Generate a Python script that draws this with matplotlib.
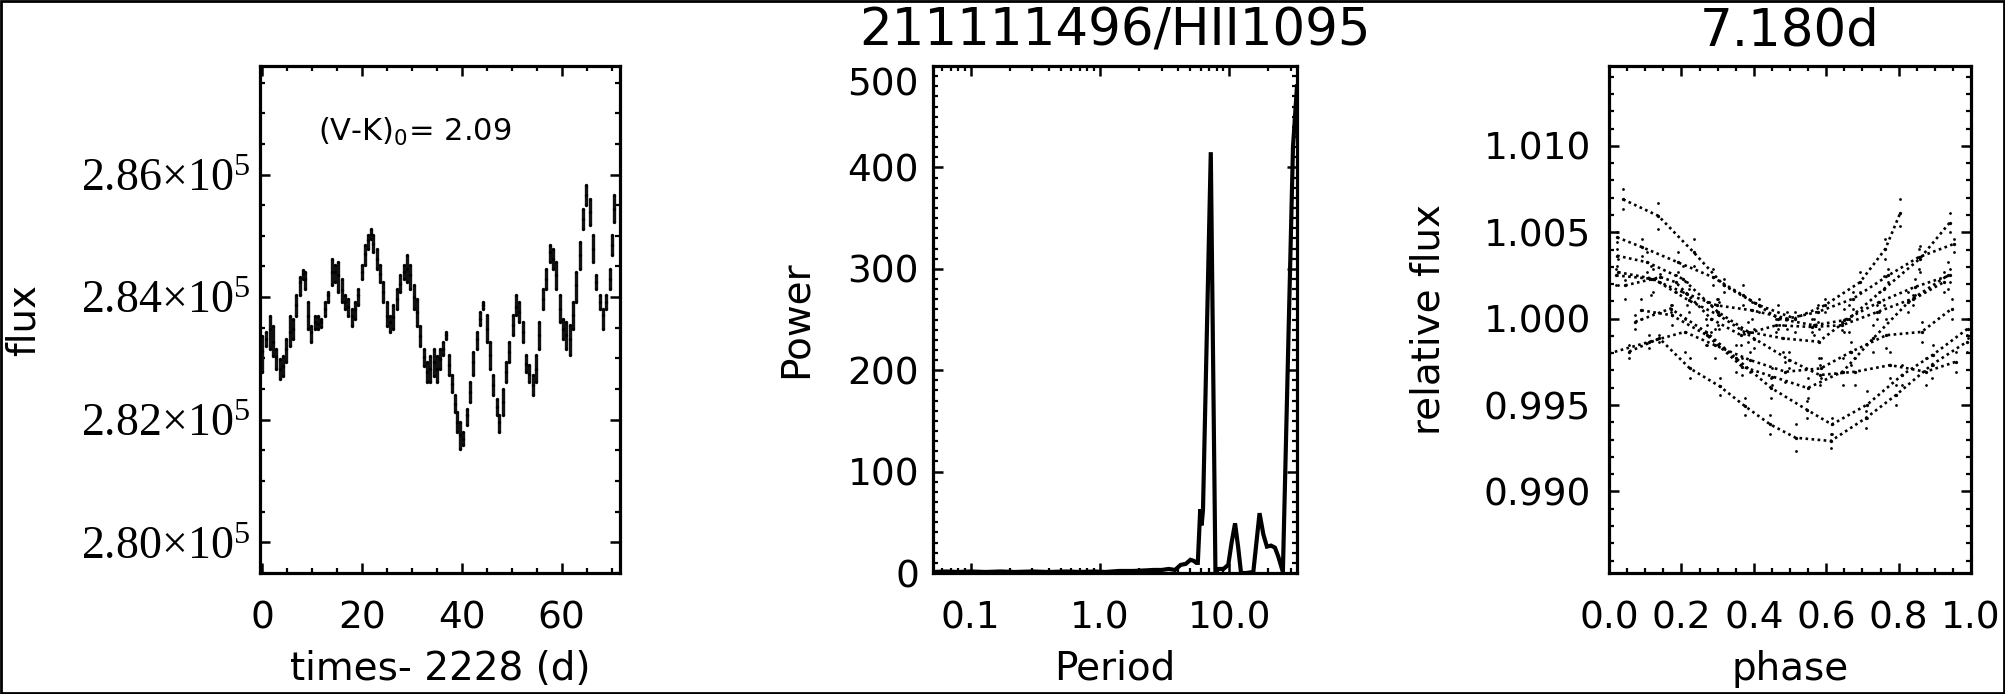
import numpy as np
import matplotlib
matplotlib.use('Agg')
import matplotlib.pyplot as plt
import matplotlib.transforms as mtransforms
from matplotlib.ticker import MultipleLocator, FixedLocator, FuncFormatter, LogLocator, NullFormatter, FixedFormatter
from matplotlib.patches import Rectangle

# ---------------- data ----------------
star_name = '211111496/HII1095'
fold_period = 7.180
vk0 = 2.09
time_offset = 2228

lc_time = [0.0, 0.8, 1.5, 2.1, 2.8, 3.5, 4.2, 4.8, 5.5, 6.2,
           6.8, 7.5, 8.2, 8.5, 9.2, 9.8, 10.5, 11.2, 11.8, 12.5,
           13.2, 13.9, 14.5, 15.2, 15.9, 16.5, 17.2, 17.9, 18.5, 19.2,
           19.9, 20.5, 21.2, 21.7, 22.2, 22.9, 23.6, 24.2, 24.9, 25.6,
           26.2, 26.9, 27.6, 28.3, 28.9, 29.6, 30.3, 30.9, 31.6, 32.3,
           32.9, 33.6, 34.3, 35.0, 35.6,
           36.3, 36.9, 37.5, 38.1, 38.6, 39.1, 39.6, 40.3, 41.0, 41.6,
           42.3, 43.0, 43.6, 44.3, 45.0, 45.6, 46.3, 47.0, 47.5, 48.2,
           48.9, 49.5, 50.2, 50.9, 51.5, 52.2, 52.9, 53.5, 54.2, 54.9,
           55.5, 56.2, 56.9, 57.6, 58.2, 58.9, 59.6, 60.2, 60.9, 61.6,
           62.2, 62.9, 63.6, 64.2, 64.9, 65.6, 66.3, 66.9, 67.6, 68.3,
           68.9, 69.6, 70.1, 70.4]

lc_flux_mid = [283128, 283319, 283482, 283264, 283019, 282828, 282883, 283155, 283428, 283482,
               283864, 284245, 284381, 284300, 283700, 283428, 283591, 283564, 283591, 283809,
               284027, 284409, 284409, 284354, 284109, 283918, 283836, 283700, 283809, 284027,
               284409, 284708, 284926, 285035, 284872, 284627, 284381, 284082, 283700, 283591,
               283673, 283973, 284218, 284409, 284463, 284354, 284000, 283755, 283373, 283019,
               282774, 282828, 282937, 282828, 282992,
               283158, 283375, 282886, 282587, 282261, 281962, 281745, 281691, 282071, 282451,
               282941, 283321, 283647, 283865, 283484, 283049, 282560, 282207, 281962, 282288,
               282778, 283104, 283538, 283837, 283756, 283430, 282913, 282750, 282560, 282832,
               283375, 283973, 284299, 284734, 284625, 284354, 283810, 283484, 283375, 283321,
               283702, 284191, 284680, 285278, 285658, 285386, 284789, 284245, 283919, 283702,
               283919, 284299, 284843, 285441]

lc_flux_top = [283373, 283428, 283700, 283537, 283155, 282992, 283046, 283319, 283700, 283646,
               284027, 284327, 284436, 284409, 283918, 283537, 283700, 283700, 283646, 283918,
               284082, 284627, 284518, 284572, 284300, 284027, 283973, 283809, 283918, 284136,
               284518, 284845, 285008, 285117, 285008, 284790, 284518, 284245, 283918, 283700,
               283864, 284136, 284354, 284518, 284681, 284518, 284191, 283973, 283537, 283155,
               282937, 283046, 283155, 283046, 283155,
               283267, 283430, 283049, 282723, 282397, 282125, 281962, 281799, 282180, 282614,
               283104, 283430, 283756, 283919, 283702, 283267, 282723, 282343, 282071, 282506,
               282941, 283267, 283702, 284028, 283919, 283593, 283049, 282886, 282723, 283049,
               283593, 284136, 284463, 284843, 284789, 284571, 284028, 283647, 283593, 283538,
               283919, 284408, 284897, 285441, 285821, 285604, 285006, 284354, 284028, 283810,
               284028, 284463, 285006, 285658]

lc_flux_bot = [282774, 283210, 283155, 283046, 282828, 282664, 282719, 282937, 283210, 283319,
               283700, 284027, 284300, 284136, 283482, 283264, 283482, 283482, 283509, 283700,
               283918, 284191, 284245, 284082, 283918, 283809, 283700, 283537, 283646, 283864,
               284300, 284518, 284790, 284953, 284736, 284463, 284245, 283918, 283537, 283428,
               283482, 283809, 284082, 284300, 284245, 284136, 283809, 283537, 283210, 282883,
               282610, 282610, 282719, 282610, 282828,
               283049, 283321, 282723, 282452, 282125, 281799, 281527, 281582, 281908, 282288,
               282723, 283158, 283538, 283810, 283267, 282832, 282397, 282071, 281799, 282071,
               282615, 282941, 283375, 283702, 283593, 283267, 282778, 282615, 282397, 282615,
               283158, 283810, 284136, 284571, 284463, 284136, 283593, 283321, 283158, 283049,
               283484, 283919, 284463, 285115, 285495, 285169, 284571, 284136, 283810, 283484,
               283810, 284136, 284680, 285223]

pg_period = [0.0512, 0.065, 0.08, 0.1, 0.13, 0.17, 0.22, 0.3, 0.4, 0.55,
             0.7, 0.9, 1.1, 1.4, 1.8, 2.2, 2.6, 3.0, 3.4, 3.8,
             4.2, 4.6, 5.0, 5.3, 5.55, 5.7, 5.85, 5.95, 6.1, 6.25,
             7.18, 7.8, 8.3, 9.0, 9.8, 10.4, 11.06, 11.7, 12.3, 13.5,
             15.3, 17.1, 18.3, 19.5, 21.0, 22.5, 23.9, 25.9, 31.0, 33.3]
pg_power = [1, 1.5, 1, 1.5, 1, 1.5, 1, 1.5, 1, 1.5,
            1, 1.5, 1, 2, 2, 2.5, 3, 3, 4, 3,
            8, 9, 13, 12, 10, 10, 42, 63, 47, 62,
            415, 1, 4, 4, 8, 30, 49, 25, 0, 0,
            1, 59, 38, 26, 27, 25, 16, 1, 420, 480]

x1_ticks = [0, 20, 40, 60]
y1_ticks = [280000, 282000, 284000, 286000]
x2_ticks = [0.1, 1.0, 10.0]
x2_labels = ['0.1', '1.0', '10.0']
y2_ticks = [0, 100, 200, 300, 400, 500]
x3_ticks = [0.0, 0.2, 0.4, 0.6, 0.8, 1.0]
y3_ticks = [0.990, 0.995, 1.000, 1.005, 1.010]

assert len(lc_time) == len(lc_flux_mid) == len(lc_flux_top) == len(lc_flux_bot)
assert len(pg_period) == len(pg_power)

# ---------------- style ----------------
plt.rcParams['font.family'] = ['DejaVu Sans']
plt.rcParams['mathtext.fontset'] = 'dejavusans'
TICK_FS = 27
LAB_FS = 28
TITLE_FS = 37
SPINE_LW = 2.3

W, H = 2005, 694
fig = plt.figure(figsize=(W / 100, H / 100), dpi=100)


def add_ax(left_px, right_px, top_px=66, bottom_px=573):
    return fig.add_axes([left_px / W, 1 - bottom_px / H,
                         (right_px - left_px) / W, (bottom_px - top_px) / H])


def style(ax):
    for s in ax.spines.values():
        s.set_linewidth(SPINE_LW)
    ax.tick_params(which='both', direction='in', top=True, right=True, color='k')
    ax.tick_params(which='major', length=7, width=1.8)
    ax.tick_params(which='minor', length=3.5, width=1.6)
    ax.tick_params(axis='x', which='major', pad=20, labelsize=TICK_FS)
    ax.tick_params(axis='y', which='major', labelsize=TICK_FS)


def set_xlabel_at(ax, text):
    ax.set_xlabel(text, fontsize=LAB_FS)
    ax.xaxis.set_label_coords(0.5, -(680 - 573) / 507)
    ax.xaxis.label.set_va('baseline')


def set_ylabel_at(ax, text, x_px, left_px, width_px):
    ax.set_ylabel(text, fontsize=LAB_FS)
    ax.yaxis.set_label_coords((x_px - left_px) / width_px, 0.5)
    ax.yaxis.label.set_va('center')


ax1 = add_ax(260, 620)
ax2 = add_ax(933, 1297)
ax3 = add_ax(1609, 1971)

dot = dict(ls='none', marker='o', ms=2.4, mfc='k', mec='none')

# ---- panel 1 : light curve ----
style(ax1)
ax1.vlines(lc_time, lc_flux_bot, lc_flux_top, color='#111111', lw=2.4)
ax1.plot(lc_time, lc_flux_top, **dot)
ax1.plot(lc_time, lc_flux_bot, **dot)
ax1.plot(lc_time, lc_flux_mid, **dot)
ax1.set_xlim(-0.5, 71.7)
ax1.set_ylim(279500, 287770)
ax1.xaxis.set_major_locator(FixedLocator(x1_ticks))
ax1.xaxis.set_minor_locator(MultipleLocator(5))
ax1.yaxis.set_major_locator(FixedLocator(y1_ticks))
ax1.yaxis.set_minor_locator(MultipleLocator(500))
ax1.yaxis.set_major_formatter(FuncFormatter(
    lambda v, p: r'$\mathregular{%.2f×10^{5}}$' % (v / 1e5)))
ax1.tick_params(axis='y', which='major', pad=7)
for lab in ax1.get_yticklabels():
    lab.set_fontfamily('Liberation Serif')
    lab.set_fontsize(33)
set_xlabel_at(ax1, 'times- %d (d)' % time_offset)
set_ylabel_at(ax1, 'flux', 24, 260, 360)
fig.text(318 / W, 1 - 141 / H, r'(V-K)$\mathregular{_0}$= %.2f' % vk0,
         fontsize=22, ha='left', va='baseline')

# ---- panel 2 : periodogram ----
style(ax2)
ax2.plot(pg_period, pg_power, color='k', lw=3.0, solid_joinstyle='miter')
ax2.set_xscale('log')
ax2.set_xlim(0.0512, 33.3)
ax2.set_ylim(0, 500)
ax2.xaxis.set_major_locator(FixedLocator(x2_ticks))
ax2.xaxis.set_major_formatter(FixedFormatter(x2_labels))
ax2.xaxis.set_minor_locator(LogLocator(base=10, subs=np.arange(2, 10)))
ax2.xaxis.set_minor_formatter(NullFormatter())
ax2.yaxis.set_major_locator(FixedLocator(y2_ticks))
ax2.yaxis.set_minor_locator(MultipleLocator(10))
ax2.tick_params(axis='y', which='major', pad=10)
set_xlabel_at(ax2, 'Period')
set_ylabel_at(ax2, 'Power', 796, 933, 364)
ax2.set_title(star_name, fontsize=TITLE_FS, pad=15)
# the top label ("500") sits a little below its tick, as in the reference
top_tick = ax2.yaxis.get_major_ticks()[-1]
top_tick.label1.set_transform(top_tick.label1.get_transform() +
                              mtransforms.ScaledTranslation(0, -0.15, fig.dpi_scale_trans))

# ---- panel 3 : phase-folded light curve ----
style(ax3)
t = np.asarray(lc_time, dtype=float)
norm = np.median(lc_flux_mid)
phase = (t % fold_period) / fold_period
rel_mid = np.asarray(lc_flux_mid, dtype=float) / norm
rel_top = np.asarray(lc_flux_top, dtype=float) / norm
rel_bot = np.asarray(lc_flux_bot, dtype=float) / norm
ph_list, rl_list = [], []
for i in range(len(t)):
    if i > 0 and phase[i] < phase[i - 1]:
        ph_list.append(np.nan)
        rl_list.append(np.nan)
    ph_list.append(phase[i])
    rl_list.append(rel_mid[i])
ax3.plot(ph_list, rl_list, color='k', lw=1.9, ls=(0, (1, 1.3)),
         marker='o', ms=2.4, mfc='k', mec='none')
ax3.plot(phase, rel_top, **dict(dot, ms=2.0))
ax3.plot(phase, rel_bot, **dict(dot, ms=2.0))
ax3.set_xlim(0, 1)
ax3.set_ylim(0.98528, 1.01462)
ax3.xaxis.set_major_locator(FixedLocator(x3_ticks))
ax3.xaxis.set_major_formatter(FuncFormatter(lambda v, p: '%.1f' % v))
ax3.xaxis.set_minor_locator(MultipleLocator(0.05))
ax3.yaxis.set_major_locator(FixedLocator(y3_ticks))
ax3.yaxis.set_major_formatter(FuncFormatter(lambda v, p: '%.3f' % v))
ax3.yaxis.set_minor_locator(MultipleLocator(0.001))
ax3.tick_params(axis='y', which='major', pad=13)
set_xlabel_at(ax3, 'phase')
set_ylabel_at(ax3, 'relative flux', 1429, 1609, 362)
ax3.set_title('%.3fd' % fold_period, fontsize=TITLE_FS, pad=15)

# figure frame
fig.patches.append(Rectangle((0.0005, 0.001), 0.999, 0.998, transform=fig.transFigure,
                             fill=False, lw=2.0, ec='k'))

fig.savefig('out.png', dpi=100)
